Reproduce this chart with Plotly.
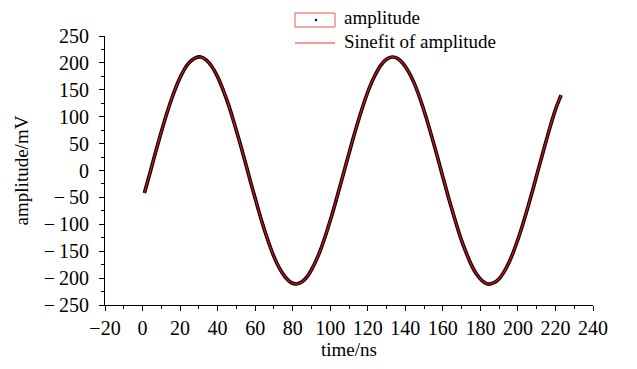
import plotly.graph_objects as go

time_ns = [1, 4, 7, 10, 13, 16, 19, 22, 25, 28, 31, 34, 37, 40, 43, 46, 49, 52, 55, 58,
           61, 64, 67, 70, 73, 76, 79, 82, 85, 88, 91, 94, 97, 100, 103, 106, 109, 112, 115, 118,
           121, 124, 127, 130, 133, 136, 139, 142, 145, 148, 151, 154, 157, 160, 163, 166, 169, 172, 175, 178,
           181, 184, 187, 190, 193, 196, 199, 202, 205, 208, 211, 214, 217, 220, 223]
amplitude = [-42, -4, 35, 72, 107, 138, 165, 186, 201, 209, 211, 205, 193, 174, 149, 120, 86, 50, 12, -27,
             -64, -100, -132, -160, -182, -198, -208, -211, -207, -196, -178, -155, -126, -93, -57, -19, 19, 57, 93, 126,
             155, 178, 196, 207, 211, 208, 198, 182, 160, 132, 100, 64, 27, -12, -50, -86, -120, -149, -174, -193,
             -205, -211, -209, -201, -186, -165, -138, -107, -72, -35, 4, 42, 79, 113, 140]

x_ticks = list(range(-20, 241, 20))
y_ticks = list(range(-250, 251, 50))
x_ticktext = [("\u2212" + str(-v)) if v < 0 else str(v) for v in x_ticks]
y_ticktext = [("\u2212\u2009" + str(-v)) if v < 0 else str(v) for v in y_ticks]
legend_labels = ["amplitude", "Sinefit of amplitude"]

FONT = "Liberation Serif, Times New Roman, serif"

fig = go.Figure()
fig.add_trace(go.Scatter(x=time_ns, y=amplitude, mode="lines",
                         line=dict(color="black", width=3.6, shape="spline", smoothing=1),
                         showlegend=False))
fig.add_trace(go.Scatter(x=time_ns, y=amplitude, mode="lines",
                         line=dict(color="#c8101a", width=1.4, shape="spline", smoothing=1),
                         showlegend=False))

axis_common = dict(showline=True, linecolor="black", linewidth=1, ticks="outside",
                   ticklen=5, tickcolor="black", tickwidth=1, showgrid=False, zeroline=False,
                   tickfont=dict(family=FONT, size=20, color="black"))

fig.update_xaxes(range=[-20, 240], tickvals=x_ticks, ticktext=x_ticktext, **axis_common,
                 minor=dict(dtick=10, ticks="outside", ticklen=3, tickcolor="black"),
                 title=dict(text="time/ns", font=dict(family=FONT, size=19, color="black"), standoff=4))
fig.update_yaxes(range=[-250, 250], tickvals=y_ticks, ticktext=y_ticktext, **axis_common,
                 minor=dict(dtick=25, ticks="outside", ticklen=3, tickcolor="black"),
                 ticklabelstandoff=6,
                 title=dict(text="amplitude/mV", font=dict(family=FONT, size=19, color="black"), standoff=10))

# manual legend (Origin style)
def px2x(p):
    return (p - 105) / 488.0

def py2y(p):
    return (305 - p) / 269.0

shapes = [
    dict(type="rect", xref="paper", yref="paper", x0=px2x(295), x1=px2x(335), y0=py2y(27), y1=py2y(13),
         line=dict(color="#ee5555", width=1)),
    dict(type="circle", xref="paper", yref="paper", xsizemode="pixel", ysizemode="pixel",
         xanchor=px2x(316), yanchor=py2y(20), x0=-1.2, x1=1.2, y0=-1.2, y1=1.2,
         fillcolor="black", line=dict(color="black", width=0)),
    dict(type="line", xref="paper", yref="paper", x0=px2x(295), x1=px2x(335), y0=py2y(43), y1=py2y(43),
         line=dict(color="#ee3333", width=1)),
]
annotations = [
    dict(text=legend_labels[0], xref="paper", yref="paper", x=px2x(342), y=py2y(17),
         xanchor="left", yanchor="middle", showarrow=False, font=dict(family=FONT, size=19, color="black")),
    dict(text=legend_labels[1], xref="paper", yref="paper", x=px2x(342), y=py2y(42),
         xanchor="left", yanchor="middle", showarrow=False, font=dict(family=FONT, size=19, color="black")),
]

fig.update_layout(width=637, height=369, margin=dict(l=105, r=44, t=36, b=64, autoexpand=False),
                  plot_bgcolor="white", paper_bgcolor="white", showlegend=False,
                  shapes=shapes, annotations=annotations,
                  font=dict(family=FONT, size=19, color="black"))

fig.write_html("out.html")
